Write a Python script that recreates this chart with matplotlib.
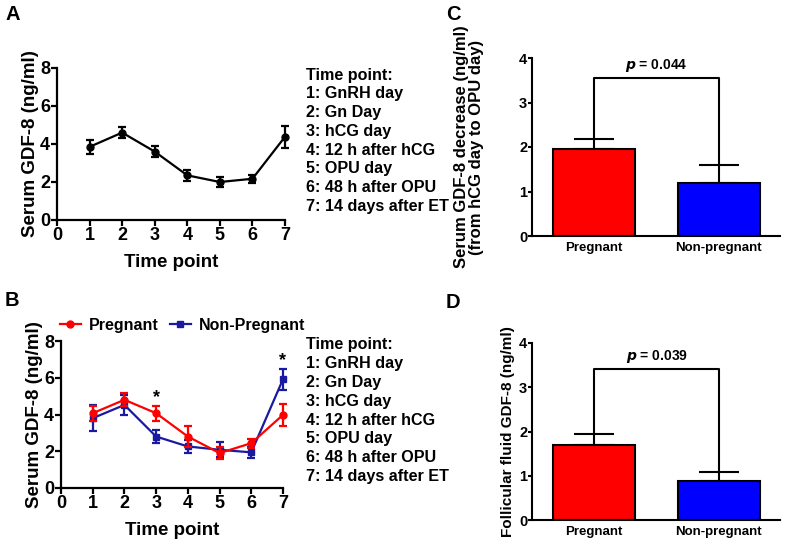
import matplotlib
matplotlib.use("Agg")
import matplotlib.pyplot as plt
from matplotlib.lines import Line2D
import numpy as np

plt.rcParams['font.family'] = ['Liberation Sans', 'DejaVu Sans']
plt.rcParams['font.weight'] = 'bold'
plt.rcParams['axes.labelweight'] = 'bold'

# ---- data ----
time_points = [1, 2, 3, 4, 5, 6, 7]
a_mean = [3.85, 4.6, 3.6, 2.35, 2.0, 2.17, 4.38]
a_err = [0.37, 0.3, 0.3, 0.3, 0.25, 0.2, 0.58]

preg_mean = [4.07, 4.8, 4.07, 2.8, 1.9, 2.44, 3.98]
preg_err = [0.4, 0.35, 0.4, 0.55, 0.33, 0.25, 0.58]
nonpreg_mean = [3.8, 4.52, 2.8, 2.26, 2.08, 1.94, 5.92]
nonpreg_err = [0.7, 0.55, 0.37, 0.37, 0.4, 0.3, 0.56]
star_points = [3, 7]

groups = ["Pregnant", "Non-pregnant"]
c_mean = [1.95, 1.2]
c_err = [0.23, 0.4]
c_p = "0.044"
d_mean = [1.69, 0.89]
d_err = [0.25, 0.19]
d_p = "0.039"

legend_lines = ["Time point:", "1: GnRH day", "2: Gn Day", "3: hCG day",
                "4: 12 h after hCG", "5: OPU day", "6: 48 h after OPU",
                "7: 14 days after ET"]

W, H = 787, 545
fig = plt.figure(figsize=(W / 100, H / 100), dpi=100)

def px_axes(l, r, t, b):
    return fig.add_axes([l / W, 1 - b / H, (r - l) / W, (b - t) / H])

def style_line_axes(ax):
    for s in ['top', 'right']:
        ax.spines[s].set_visible(False)
    for s in ['left', 'bottom']:
        ax.spines[s].set_linewidth(1.6)
    ax.set_xlim(0, 7)
    ax.set_ylim(0, 8)
    ax.set_xticks(range(0, 8))
    ax.set_yticks([0, 2, 4, 6, 8])
    ax.tick_params(width=1.6, length=4, labelsize=13, pad=1)
    for lab in ax.get_xticklabels() + ax.get_yticklabels():
        lab.set_fontweight('bold')
    ax.set_xlabel("Time point", fontsize=13.5, fontweight='bold', labelpad=7)
    ax.set_ylabel("Serum GDF-8 (ng/ml)", fontsize=13.5, fontweight='bold', labelpad=1)

ekw = dict(markersize=5, lw=1.6, capsize=3, capthick=1.6, elinewidth=1.6,
           clip_on=False)

# ---- Panel A ----
axA = px_axes(57, 285, 68, 220)
axA.errorbar(time_points, a_mean, yerr=a_err, color='black', marker='o', **ekw)
style_line_axes(axA)

# ---- Panel B ----
axB = px_axes(61, 283, 341, 488)
red = '#ff0000'
blue = '#1a1aa0'
axB.errorbar(time_points, preg_mean, yerr=preg_err, color=red, marker='o',
             zorder=3, **ekw)
axB.errorbar(time_points, nonpreg_mean, yerr=nonpreg_err, color=blue, marker='s',
             zorder=2, **ekw)
style_line_axes(axB)
for tp in star_points:
    i = time_points.index(tp)
    top = max(preg_mean[i] + preg_err[i], nonpreg_mean[i] + nonpreg_err[i])
    axB.text(tp, top + 0.0, "*", ha='center', va='bottom', fontsize=13,
             fontweight='bold')
handles = [Line2D([], [], color=red, marker='o', markersize=5, lw=1.6),
           Line2D([], [], color=blue, marker='s', markersize=5, lw=1.6)]
leg = axB.legend(handles, ["Pregnant", "Non-Pregnant"], loc='lower left',
                 bbox_to_anchor=(-0.04, 1.0), ncol=2,
                 frameon=False, fontsize=11.5, handlelength=1.3,
                 columnspacing=0.7, handletextpad=0.5, borderaxespad=0.1)
for t in leg.get_texts():
    t.set_fontweight('bold')

# time point lists
for y0 in (75, 345):
    for k, line in enumerate(legend_lines):
        fig.text(306 / W, 1 - (y0 + k * 18.8) / H, line, fontsize=11.6,
                 fontweight='bold', va='center', ha='left')

# ---- bar panels ----
def bar_panel(ax, means, errs, ptext, bracket_y, ylabel, label_x, lfs):
    x = np.arange(len(groups))
    colors = ['#ff0000', '#0000ff']
    ax.bar(x, means, width=0.66, color=colors, edgecolor='black', linewidth=1.5,
           zorder=2)
    ax.errorbar(x, means, yerr=[np.zeros(len(means)), errs], fmt='none',
                ecolor='black', elinewidth=1.5, capsize=14.5, capthick=1.5,
                zorder=1)
    ax.set_xlim(-0.5, 1.49)
    ax.set_ylim(0, 4)
    ax.set_yticks([0, 1, 2, 3, 4])
    ax.set_xticks(x)
    ax.set_xticklabels(groups)
    for s in ['top', 'right']:
        ax.spines[s].set_visible(False)
    for s in ['left', 'bottom']:
        ax.spines[s].set_linewidth(1.5)
    ax.tick_params(axis='y', width=1.5, length=3, labelsize=10.5, pad=0.5)
    ax.tick_params(axis='x', length=0, labelsize=9.5, pad=4)
    for lab in ax.get_xticklabels() + ax.get_yticklabels():
        lab.set_fontweight('bold')
    # bracket
    tops = [m + e for m, e in zip(means, errs)]
    ax.plot([0, 0, 1, 1], [tops[0], bracket_y, bracket_y, tops[1]],
            color='black', lw=1.5)
    ax.text(0.5, bracket_y + 0.08, r"$\bfit{p}$" + " = " + ptext, ha='center',
            va='bottom', fontsize=10, fontweight='bold')
    ax.set_ylabel(ylabel, fontsize=lfs, fontweight='bold', linespacing=1.0)
    ax.yaxis.set_label_coords(label_x, 0.5)

axC = px_axes(532, 780, 58, 236)
bar_panel(axC, c_mean, c_err, c_p, 3.55,
          "Serum GDF-8 decrease (ng/ml)\n(from hCG day to OPU day)", -0.195, 12)
axD = px_axes(532, 780, 343, 520)
bar_panel(axD, d_mean, d_err, d_p, 3.42,
          "Follicular fluid GDF-8 (ng/ml)", -0.07, 11)

# panel letters
for lab, x, y in [("A", 5, 14), ("B", 5, 301), ("C", 446, 14), ("D", 446, 303)]:
    fig.text(x / W, 1 - y / H, lab, fontsize=14.5, fontweight='bold',
             va='center', ha='left')

fig.savefig("out.png", dpi=100)
